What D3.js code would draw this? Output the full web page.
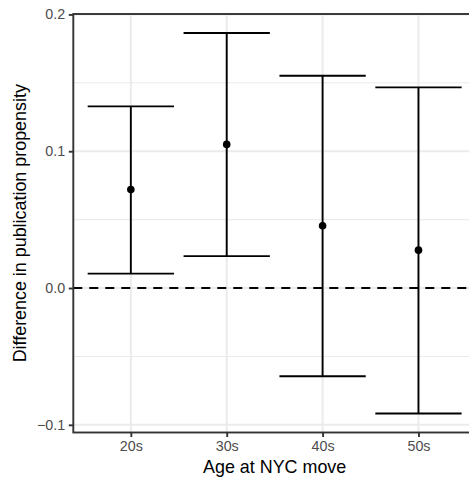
<!DOCTYPE html>
<html>
<head>
<meta charset="utf-8">
<script src="https://cdn.jsdelivr.net/npm/d3@7"></script>
<style>
    body{margin:0;background:#fff;overflow:hidden;}
    text{font-family:"Liberation Sans",Arial,sans-serif;}
</style>
</head>
<body>
<div id="chart"></div>
<script>
// data
let ages=[`20s`,`30s`,`40s`,`50s`];
let estimates=[0.072,0.105,0.0455,0.0277];
let lowers=[0.0105,0.0233,-0.0645,-0.0917];
let uppers=[0.1328,0.1864,0.1552,0.1467];
let yTicks=[-0.1,0,0.1,0.2];
let yMinorTicks=[-0.05,0.05,0.15];
let xTitle=`Age at NYC move`;
let yTitle=`Difference in publication propensity`;

let format={width:469,height:480,margin:{left:73.3,top:14,right:-7,bottom:47.5}};
let innerW=format.width-format.margin.left-format.margin.right;
let innerH=format.height-format.margin.top-format.margin.bottom;

let svg=d3.select(`#chart`).append(`svg`)
    .attr(`width`,format.width)
    .attr(`height`,format.height);

let graph=svg.append(`g`)
    .attr(`transform`,`translate(${format.margin.left},${format.margin.top})`);

//ggplot style 5% expansion
let lo=d3.min(lowers),hi=d3.max(uppers),pad=(hi-lo)*0.05;
let y=d3.scaleLinear().domain([lo-pad,hi+pad]).range([innerH,0]);
let x=d3.scalePoint().domain(ages).range([0,innerW]).padding(0.6);
let step=x.step();

//grid
graph.append(`g`).selectAll(`line`).data(yMinorTicks).enter().append(`line`)
    .attr(`x1`,0).attr(`x2`,innerW)
    .attr(`y1`,d=>y(d)).attr(`y2`,d=>y(d))
    .attr(`stroke`,`#ebebeb`).attr(`stroke-width`,1.1);
graph.append(`g`).selectAll(`line`).data(yTicks).enter().append(`line`)
    .attr(`x1`,0).attr(`x2`,innerW)
    .attr(`y1`,d=>y(d)).attr(`y2`,d=>y(d))
    .attr(`stroke`,`#ebebeb`).attr(`stroke-width`,2);
graph.append(`g`).selectAll(`line`).data(ages).enter().append(`line`)
    .attr(`x1`,d=>x(d)).attr(`x2`,d=>x(d))
    .attr(`y1`,0).attr(`y2`,innerH)
    .attr(`stroke`,`#ebebeb`).attr(`stroke-width`,2);

//zero reference
graph.append(`line`)
    .attr(`x1`,0).attr(`x2`,innerW)
    .attr(`y1`,y(0)).attr(`y2`,y(0))
    .attr(`stroke`,`#000`).attr(`stroke-width`,1.9)
    .attr(`stroke-dasharray`,`9,7`);

//error bars
let rows=ages.map((a,i)=>({age:a,est:estimates[i],lo:lowers[i],hi:uppers[i]}));
let bars=graph.append(`g`).selectAll(`g`).data(rows).enter().append(`g`)
    .attr(`stroke`,`#000`).attr(`stroke-width`,1.9);
bars.append(`line`)
    .attr(`x1`,d=>x(d.age)).attr(`x2`,d=>x(d.age))
    .attr(`y1`,d=>y(d.lo)).attr(`y2`,d=>y(d.hi));
bars.append(`line`)
    .attr(`x1`,d=>x(d.age)-step*0.45).attr(`x2`,d=>x(d.age)+step*0.45)
    .attr(`y1`,d=>y(d.hi)).attr(`y2`,d=>y(d.hi));
bars.append(`line`)
    .attr(`x1`,d=>x(d.age)-step*0.45).attr(`x2`,d=>x(d.age)+step*0.45)
    .attr(`y1`,d=>y(d.lo)).attr(`y2`,d=>y(d.lo));

graph.append(`g`).selectAll(`circle`).data(rows).enter().append(`circle`)
    .attr(`cx`,d=>x(d.age)).attr(`cy`,d=>y(d.est))
    .attr(`r`,3.8).attr(`fill`,`#000`);

//panel border
graph.append(`rect`)
    .attr(`x`,0).attr(`y`,0).attr(`width`,innerW).attr(`height`,innerH)
    .attr(`fill`,`none`).attr(`stroke`,`#333`).attr(`stroke-width`,1.9);

//axes
let yAxis=graph.append(`g`)
    .call(d3.axisLeft(y).tickValues(yTicks).tickSize(4.5).tickPadding(3.6)
        .tickFormat(d=>d3.format(`.1f`)(d)));
let xAxis=graph.append(`g`)
    .attr(`transform`,`translate(0,${innerH})`)
    .call(d3.axisBottom(x).tickSize(4.5).tickPadding(3.6));
[xAxis,yAxis].forEach(ax=>{
    ax.select(`.domain`).remove();
    ax.selectAll(`line`).attr(`stroke`,`#333`).attr(`stroke-width`,1.9);
    ax.selectAll(`text`).attr(`fill`,`#4d4d4d`).style(`font-size`,`14.3px`)
        .style(`font-family`,`"Liberation Sans",Arial,sans-serif`);
});

//titles
svg.append(`text`)
    .attr(`x`,format.margin.left+innerW/2)
    .attr(`y`,473)
    .attr(`text-anchor`,`middle`)
    .style(`font-size`,`17.9px`)
    .attr(`fill`,`#000`)
    .text(xTitle);
svg.append(`text`)
    .attr(`transform`,`translate(26,${format.margin.top+innerH/2}) rotate(-90)`)
    .attr(`text-anchor`,`middle`)
    .style(`font-size`,`17.9px`)
    .attr(`fill`,`#000`)
    .text(yTitle);
</script>
</body>
</html>
